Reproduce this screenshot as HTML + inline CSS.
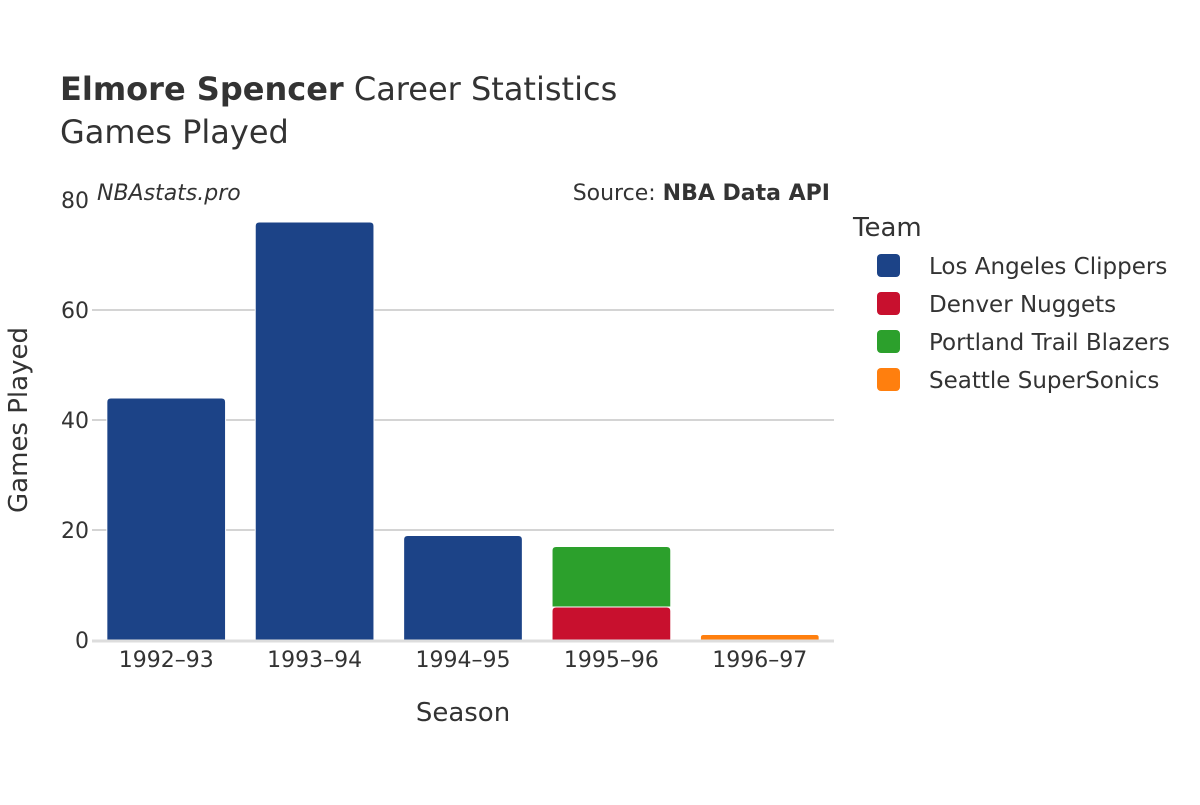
<!DOCTYPE html>
<html><head><meta charset="utf-8"><style>
body{margin:0;background:#fff;}
svg text{font-family:"DejaVu Sans","Liberation Sans",sans-serif;}
</style></head><body>
<svg id="chart" width="1200" height="800">
<text x="60" y="100" font-size="32" fill="#333"><tspan font-weight="bold">Elmore Spencer</tspan> Career Statistics</text>
<text x="60" y="143" font-size="32" fill="#333">Games Played</text>
<text x="97" y="200" font-size="22" font-style="italic" fill="#333">NBAstats.pro</text>
<text x="830" y="200" font-size="22" fill="#333" text-anchor="end">Source: <tspan font-weight="bold">NBA Data API</tspan></text>
<g id="grid"></g>
<g id="bars"></g>
<g id="xticks"></g>
<text x="463" y="721" font-size="26" fill="#333" text-anchor="middle">Season</text>
<text transform="translate(27,420) rotate(-90)" font-size="26" fill="#333" text-anchor="middle">Games Played</text>
<text x="853" y="236" font-size="26" fill="#333">Team</text>
<g id="legend"></g>
</svg>
<script>
const seasons=["1992–93","1993–94","1994–95","1995–96","1996–97"];
const teams=["Los Angeles Clippers","Denver Nuggets","Portland Trail Blazers","Seattle SuperSonics"];
const colors=["#1c4387","#c8102e","#2ca02c","#ff7f0e"];
const clippers=[44,76,19,0,0];
const nuggets=[0,0,0,6,0];
const blazers=[0,0,0,11,0];
const sonics=[0,0,0,0,1];
const yTicks=[0,20,40,60,80];
const series=[clippers,nuggets,blazers,sonics];
const NS="http://www.w3.org/2000/svg";
const x0=92,x1=834,yBase=640,yTop=200,yMax=80;
const step=(x1-x0)/seasons.length,bw=step*0.8;
const y=v=>yBase-(v/yMax)*(yBase-yTop);
const xc=i=>x0+step*(i+0.5);
function mk(t,a,p){const e=document.createElementNS(NS,t);for(const k in a)e.setAttribute(k,a[k]);p.appendChild(e);return e;}
const grid=document.getElementById('grid');
yTicks.forEach(t=>{
 if(t>0&&t<80){const l=mk('line',{x1:x0,x2:x1,y1:y(t),y2:y(t),stroke:'#bbb','stroke-width':1.3},grid);
 
 }
 const tx=mk('text',{x:x0-3,y:y(t)+8,'font-size':22,fill:'#333','text-anchor':'end'},grid);tx.textContent=t;
 
 
});
const bars=document.getElementById('bars');
seasons.forEach((s,i)=>{
 let acc=0;
 series.forEach((ser,k)=>{
  const v=ser[i];if(!v)return;
  const top=y(acc+v),bot=y(acc);acc+=v;
  const r=Math.min(4,(bot-top)/2),xl=xc(i)-bw/2,xr=xc(i)+bw/2;
  const d=`M${xl},${bot}L${xl},${top+r}Q${xl},${top} ${xl+r},${top}L${xr-r},${top}Q${xr},${top} ${xr},${top+r}L${xr},${bot}Z`;
  const p=mk('path',{d,fill:colors[k],stroke:'#fff','stroke-width':1},bars);
  
  
 });
 const t=mk('text',{x:xc(i),y:667,'font-size':22,fill:'#333','text-anchor':'middle'},document.getElementById('xticks'));t.textContent=s;
 
 
});
const zl=mk('line',{x1:x0,x2:x1,y1:yBase+1,y2:yBase+1,stroke:'#ddd','stroke-width':3},bars);


const lg=document.getElementById('legend');
teams.forEach((t,k)=>{
 const g=mk('g',{},lg);
 
 
 const yy=265+38*k;
 mk('rect',{x:877,y:yy-11,width:23,height:23,rx:4,fill:colors[k]},g);
 const tx=mk('text',{x:929,y:yy+9,'font-size':23,fill:'#333'},g);tx.textContent=t;
});
</script>
</body></html>
